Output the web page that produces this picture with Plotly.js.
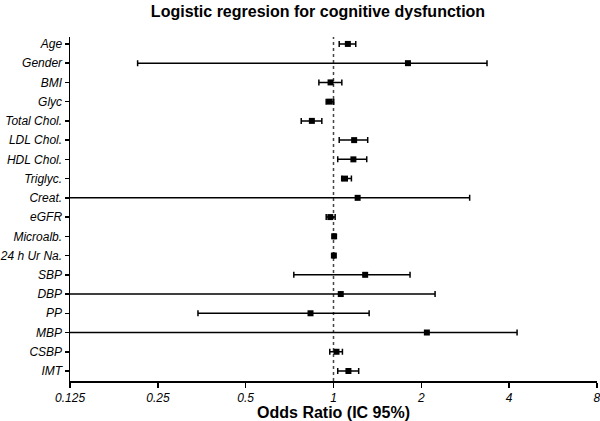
<!DOCTYPE html>
<html>
<head>
<meta charset="utf-8">
<script src="https://cdn.plot.ly/plotly-3.0.1.min.js"></script>
<style>html,body{margin:0;padding:0;background:#fff;}#chart{width:600px;height:421px;}</style>
</head>
<body>
<div id="chart"></div>
<script>
var categories = ["Age","Gender","BMI","Glyc","Total Chol.","LDL Chol.","HDL Chol.","Triglyc.","Creat.","eGFR","Microalb.","24 h Ur Na.","SBP","DBP","PP","MBP","CSBP","IMT"];
var oddsRatio = [1.12, 1.80, 0.977, 0.971, 0.843, 1.177, 1.17, 1.095, 1.21, 0.975, 1.005, 1.003, 1.284, 1.059, 0.834, 2.09, 1.024, 1.125];
var ciLower   = [1.046, 0.213, 0.891, 0.944, 0.775, 1.046, 1.034, 1.067, 0.05, 0.944, 0.998, 0.998, 0.731, 0.05, 0.343, 0.05, 0.971, 1.034];
var ciUpper   = [1.192, 3.36, 1.068, 1.002, 0.912, 1.31, 1.30, 1.152, 2.93, 1.013, 1.011, 1.008, 1.83, 2.23, 1.325, 4.26, 1.073, 1.22];
var tickVals  = [0.125, 0.25, 0.5, 1, 2, 4, 8];
var tickText  = ["0.125", "0.25", "0.5", "1", "2", "4", "8"];

var plus = oddsRatio.map(function(v,i){return ciUpper[i]-v;});
var minus = oddsRatio.map(function(v,i){return v-ciLower[i];});

var trace = {
  type: 'scatter', mode: 'markers',
  x: oddsRatio, y: categories,
  marker: {symbol: 'square', size: 6, color: '#000'},
  error_x: {type: 'data', array: plus, arrayminus: minus, color: '#000', thickness: 1.5, width: 3},
  hoverinfo: 'x+y', showlegend: false
};

var layout = {
  width: 600, height: 421,
  margin: {l: 70, r: 3, t: 37, b: 40},
  paper_bgcolor: '#fff', plot_bgcolor: '#fff',
  font: {family: 'Liberation Sans, Arial, sans-serif', color: '#000'},
  title: {text: '<b>Logistic regresion for cognitive dysfunction</b>', x: 0.53, xanchor: 'center', y: 0.972, yanchor: 'middle', font: {size: 16, color: '#000'}},
  xaxis: {
    type: 'log', range: [Math.log10(0.125) - 0.0004, Math.log10(8) + 0.0004],
    tickvals: tickVals, ticktext: tickText, ticklabeloverflow: 'allow',
    ticks: 'outside', ticklen: 5, tickwidth: 1.5, tickcolor: '#000',
    showline: true, linecolor: '#000', linewidth: 1.5,
    showgrid: false, zeroline: false,
    tickfont: {size: 12, style: 'italic', color: '#000'},
    title: {text: '<b>Odds Ratio (IC 95%)</b>', font: {size: 16, color: '#000'}, standoff: 3}
  },
  yaxis: {
    type: 'category', range: [17.52, -0.36],
    ticks: 'outside', ticklen: 4, tickwidth: 1.5, tickcolor: '#000',
    showline: true, linecolor: '#000', linewidth: 1.5,
    showgrid: false, zeroline: false,
    tickfont: {size: 12, style: 'italic', color: '#000'}
  },
  shapes: [{type: 'line', xref: 'x', yref: 'paper', x0: 1, x1: 1, y0: 0, y1: 1,
            line: {color: '#444', width: 1.5, dash: 'dot'}, layer: 'below'}]
};

Plotly.newPlot('chart', [trace], layout, {displayModeBar: false, staticPlot: true});
</script>
</body>
</html>
